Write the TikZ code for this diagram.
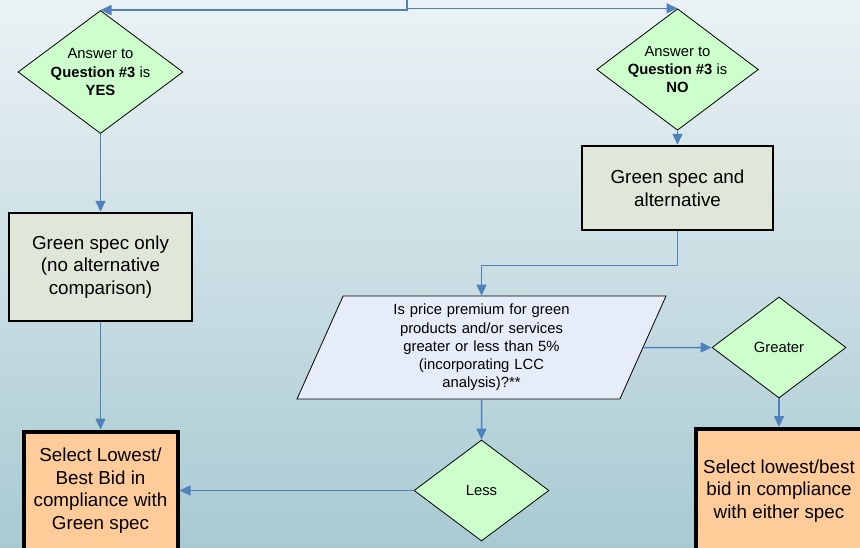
\documentclass[tikz,border=0pt]{standalone}
\usepackage{fontspec}
\setmainfont{Liberation Sans}
\usepackage{xcolor}
\usetikzlibrary{shapes.geometric,arrows.meta}

\definecolor{bgtop}{RGB}{235,242,245}
\definecolor{bgbottom}{RGB}{168,202,210}
\definecolor{linkblue}{RGB}{79,129,189}
\definecolor{diagreen}{RGB}{204,255,204}
\definecolor{specgrey}{RGB}{224,231,216}
\definecolor{querybg}{RGB}{230,237,248}
\definecolor{pickorange}{RGB}{255,204,153}

\newcommand{\smalltxt}{\fontsize{14.8}{18.2}\selectfont}
\newcommand{\bigtxt}{\fontsize{18.8}{22.6}\selectfont}

\begin{document}
\begin{tikzpicture}[x=1pt,y=-1pt]
    \tikzstyle{D}=[diamond,draw,fill=diagreen,line width=0.8pt,aspect=1.33,inner sep=0pt,font=\smalltxt,align=center]
    \tikzstyle{S}=[rectangle,draw,fill=specgrey,line width=2.5pt,font=\bigtxt,align=center]
    \tikzstyle{P}=[rectangle,draw,fill=pickorange,line width=4pt,font=\bigtxt,align=center]
    \tikzstyle{Q}=[trapezium,trapezium left angle=63.7,trapezium right angle=116.3,trapezium stretches body,draw,fill=querybg,line width=0.8pt,font=\smalltxt,align=center]
    \tikzstyle{A}=[draw=linkblue,line width=1.5pt,-{Triangle[length=11pt,width=10pt]}]

    % Background
    \clip (0,0) rectangle (860,547);
    \fill[top color=bgtop,bottom color=bgbottom] (0,0) rectangle (860,547);

    % Question #3 answers
    \coordinate (split) at (407,0);
    \node [D,minimum width=165pt,minimum height=123pt] (yes) at (100.5,72)
        {Answer to\\\textbf{Question \#3} is\\\textbf{YES}};
    \node [D,minimum width=158pt,minimum height=118pt] (no) at (677.5,69.5)
        {Answer to\\\textbf{Question \#3} is\\\textbf{NO}};

    % Specs
    \node [S,minimum width=183pt,minimum height=108pt] (only) at (100.5,267)
        {Green spec only\\(no alternative\\comparison)};
    \node [S,minimum width=191pt,minimum height=84pt] (alt) at (677.5,188)
        {Green spec and\\alternative};

    % Price premium test
    \node [Q,text width=200pt,minimum width=369pt,minimum height=103pt] (premium) at (481.5,347.5)
        {Is price premium for green\\products and/or services\\greater or less than 5\%\\(incorporating LCC\\analysis)?**};
    \node [D,minimum width=134pt,minimum height=101pt] (greater) at (779,347.5) {Greater};
    \node [D,minimum width=135pt,minimum height=101pt] (less) at (481.5,490.5) {Less};

    % Selections
    \node [P,minimum width=154pt,minimum height=118pt] (pickgreen) at (100.5,490.5)
        {Select Lowest/\\Best Bid in\\compliance with\\Green spec};
    \node [P,minimum width=166pt,minimum height=124pt] (pickeither) at (779,491)
        {Select lowest/best\\bid in compliance\\with either spec};

    % Connectors
    \draw [A] (split) |- (yes.north);
    \draw [A] (split) |- (no.north);
    \draw [A] (yes.south) -- (only.north);
    \draw [A] (no.south) -- (alt.north);
    \draw [A] (only.south) -- (pickgreen.north);
    \draw [A] (alt.south) -- ++(0,34) -| (premium.north);
    \draw [A] (premium.east) -- (greater.west);
    \draw [A] (premium.south) -- (less.north);
    \draw [A] (greater.south) -- (pickeither.north);
    \draw [A] (less.west) -- (pickgreen.east);
\end{tikzpicture}
\end{document}
